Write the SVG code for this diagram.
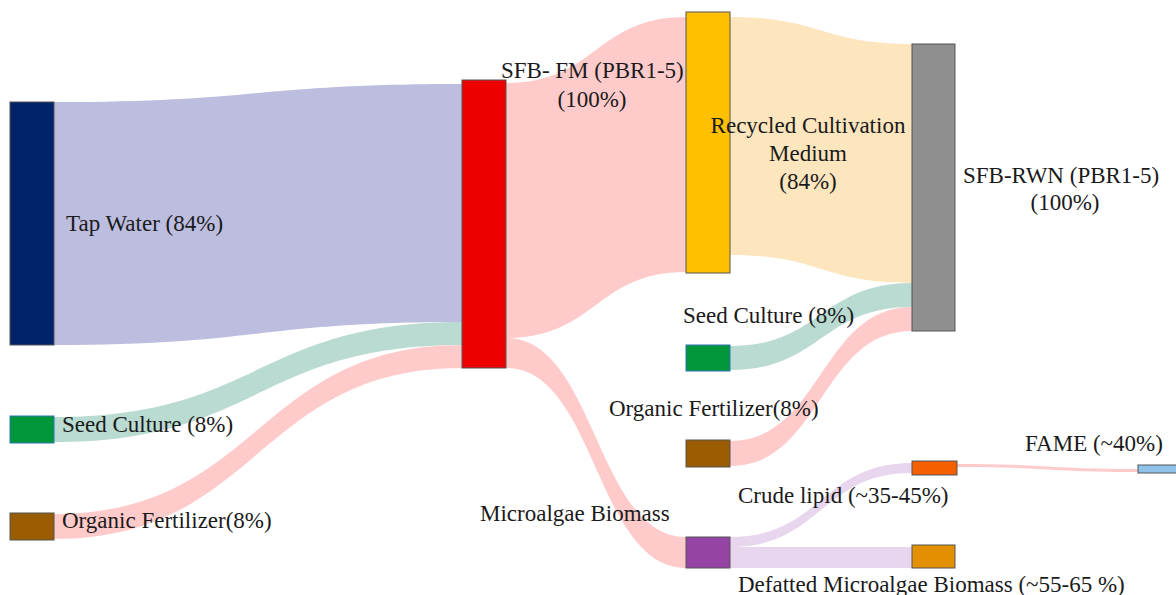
<svg xmlns="http://www.w3.org/2000/svg" width="1176" height="595" viewBox="0 0 1176 595">
<style>
text{font-family:"Liberation Serif","Times New Roman",serif;font-size:23px;fill:#1a1a1a}
.n{stroke:#555;stroke-width:1}
.fw{fill:#bcbddf}
.fg{fill:#b9dbd2}
.fp{fill:#ffcaca}
.fy{fill:#fde5bd}
.fl{fill:#e8d6ee}
</style>
<g id="connectors">
<path class="fw" d="M54,102 C258,102 258,84 462,84 L462,322 C258,322 258,345 54,345 Z"/>
<path class="fg" d="M54,417 C258,417 258,322 462,322 L462,345 C258,345 258,442 54,442 Z"/>
<path class="fp" d="M54,514 C258,514 258,345 462,345 L462,368 C258,368 258,539 54,539 Z"/>
<path class="fp" d="M506,83 C596,83 596,17 686,17 L686,272 C596,272 596,338 506,338 Z"/>
<path class="fp" d="M506,338 C596,338 596,537 686,537 L686,568 C596,568 596,368 506,368 Z"/>
<path class="fy" d="M730,17 C821,17 821,44 912,44 L912,283 C821,283 821,255 730,255 Z"/>
<path class="fg" d="M730,346 C821,346 821,283 912,283 L912,307 C821,307 821,370 730,370 Z"/>
<path class="fp" d="M730,441 C821,441 821,307 912,307 L912,331 C821,331 821,466 730,466 Z"/>
<path class="fl" d="M730,537 C821,537 821,463 912,463 L912,473 C821,473 821,547 730,547 Z"/>
<path class="fl" d="M730,547 C821,547 821,547 912,547 L912,568 C821,568 821,568 730,568 Z"/>
<path class="fp" d="M957,464 C1047,464 1047,469 1138,469 L1138,472 C1047,472 1047,467 957,467 Z"/>
</g>
<g id="tap-water"><rect class="n" x="10" y="102" width="44" height="243" fill="#002369"/><text x="66" y="231">Tap Water (84%)</text></g>
<g id="seed-culture-1"><rect x="10" y="416" width="44" height="27" fill="#00963a" stroke="#2e75b6" stroke-width="1"/><text x="62" y="432">Seed Culture (8%)</text></g>
<g id="organic-fertilizer-1"><rect class="n" x="10" y="513" width="44" height="27" fill="#9a5c00"/><text x="62" y="528">Organic Fertilizer(8%)</text></g>
<g id="sfb-fm"><rect class="n" x="462" y="80" width="44" height="288" fill="#ee0000"/><text x="501" y="78">SFB- FM (PBR1-5)</text><text x="592" y="107" text-anchor="middle">(100%)</text></g>
<g id="recycled-medium"><rect class="n" x="686" y="12" width="44" height="261" fill="#ffc000"/><text x="808" y="133" text-anchor="middle">Recycled Cultivation</text><text x="808" y="161" text-anchor="middle">Medium</text><text x="808" y="189" text-anchor="middle">(84%)</text></g>
<g id="sfb-rwn"><rect class="n" x="912" y="44" width="43" height="287" fill="#8f8f8f"/><text x="963" y="183">SFB-RWN (PBR1-5)</text><text x="1065" y="210" text-anchor="middle">(100%)</text></g>
<g id="seed-culture-2"><rect x="686" y="345" width="44" height="26" fill="#00963a" stroke="#2e75b6" stroke-width="1"/><text x="683" y="323">Seed Culture (8%)</text></g>
<g id="organic-fertilizer-2"><rect class="n" x="686" y="440" width="44" height="27" fill="#9a5c00"/><text x="609" y="416">Organic Fertilizer(8%)</text></g>
<g id="microalgae-biomass"><rect class="n" x="686" y="537" width="44" height="31" fill="#9544a5"/><text x="480" y="521">Microalgae Biomass</text></g>
<g id="crude-lipid"><rect class="n" x="912" y="461" width="45" height="14" fill="#f46000"/><text x="738" y="503">Crude lipid (~35-45%)</text></g>
<g id="defatted-biomass"><rect class="n" x="912" y="545" width="43" height="23" fill="#e39000"/><text x="738" y="592">Defatted Microalgae Biomass (~55-65 %)</text></g>
<g id="fame"><rect class="n" x="1138" y="465" width="40" height="8" fill="#8ec2ea"/><text x="1025" y="451">FAME (~40%)</text></g>
</svg>
